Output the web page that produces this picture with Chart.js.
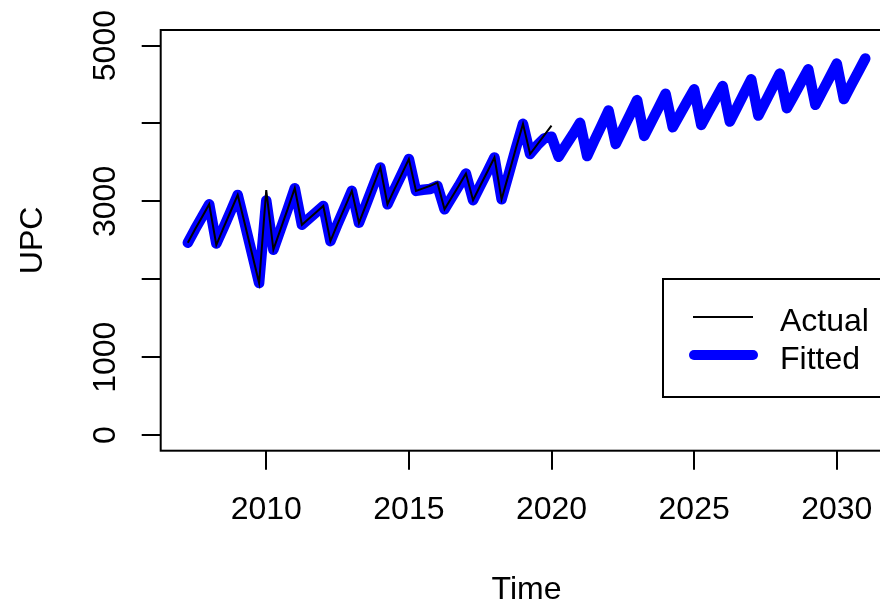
<!DOCTYPE html>
<html lang="en">
<head>
  <meta charset="UTF-8">
  <title>UPC</title>
  <script src="https://cdn.jsdelivr.net/npm/chart.js"></script>
  <style>
    html, body { margin: 0; padding: 0; background: #fff; overflow: hidden; }
    #wrap { width: 880px; height: 603px; overflow: hidden; }
    canvas { display: block; }
  </style>
</head>
<body>
<div id="wrap"><canvas id="upcChart" width="920" height="603"></canvas></div>
<script>
  // quarterly series, first point 2007 Q2
  const startYear = 2007.25;
  const actualValues = [
    2470, 2640, 2800,
    2963, 2440, 2660, 2870,
    3083, 2710, 2330, 1952,
    3144, 2380, 2640, 2900,
    3170, 2700, 2780, 2860,
    2941, 2490, 2710, 2920,
    3135, 2726, 2960, 3200,
    3435, 2963, 3160, 3350,
    3544, 3135, 3167, 3200,
    3240, 2899, 3050, 3200,
    3358, 3015, 3200, 3380,
    3564, 3028, 3350, 3680,
    3995, 3608, 3730, 3850,
    3973
  ];
  const fittedValues = [
    2470, 2640, 2800,
    2963, 2460, 2660, 2870,
    3083, 2710, 2330, 1952,
    3010, 2380, 2640, 2900,
    3170, 2700, 2780, 2860,
    2941, 2490, 2710, 2920,
    3135, 2726, 2960, 3200,
    3435, 2963, 3160, 3350,
    3544, 3135, 3150, 3160,
    3200, 2899, 3050, 3200,
    3358, 3015, 3200, 3380,
    3564, 3028, 3350, 3680,
    3995, 3608, 3720, 3810,
    3830
  ];
  const forecastValues = [
    3573, 3720, 3860, 4008,
    3582, 3780, 3970, 4167,
    3737, 3925, 4110, 4300,
    3840, 4020, 4200, 4382,
    3952, 4115, 4280, 4438,
    3982, 4150, 4315, 4480,
    4025, 4205, 4385, 4567,
    4102, 4280, 4460, 4640,
    4197, 4360, 4530, 4696,
    4240, 4415, 4590, 4769,
    4313, 4490, 4660, 4834
  ];
  const xTicks = [2010, 2015, 2020, 2025, 2030];
  const yTicks = [0, 1000, 2000, 3000, 4000, 5000];
  const yTickLabels = ['0', '1000', '', '3000', '', '5000'];
  const legendLabels = ['Actual', 'Fitted'];

  const toPoints = vals => vals.map((v, i) => ({ x: startYear + i * 0.25, y: v }));
  const actualPts = toPoints(actualValues);
  const fittedPts = toPoints(fittedValues.concat(forecastValues));

  const FONT = '32px "Liberation Sans", Arial, sans-serif';

  // R style decorations: box, axis labels, titles, legend
  const rDecor = {
    id: 'rDecor',
    afterDraw(chart) {
      const ctx = chart.ctx;
      const a = chart.chartArea;
      const xs = chart.scales.x, ys = chart.scales.y;
      ctx.save();
      ctx.strokeStyle = '#000';
      ctx.lineWidth = 2;
      ctx.strokeRect(a.left, a.top, a.right - a.left, a.bottom - a.top);

      ctx.fillStyle = '#000';
      ctx.font = FONT;
      ctx.textAlign = 'center';
      ctx.textBaseline = 'alphabetic';
      xTicks.forEach(t => ctx.fillText(String(t), xs.getPixelForValue(t), 519));
      ctx.fillText('Time', (a.left + a.right) / 2, 599);

      yTicks.forEach((t, i) => {
        if (!yTickLabels[i]) return;
        ctx.save();
        ctx.translate(115, ys.getPixelForValue(t));
        ctx.rotate(-Math.PI / 2);
        ctx.fillText(yTickLabels[i], 0, 0);
        ctx.restore();
      });
      ctx.save();
      ctx.translate(42, (a.top + a.bottom) / 2);
      ctx.rotate(-Math.PI / 2);
      ctx.fillText('UPC', 0, 0);
      ctx.restore();

      // legend
      ctx.lineWidth = 2;
      ctx.strokeRect(663, 279, 225, 118);
      ctx.beginPath();
      ctx.moveTo(693, 317);
      ctx.lineTo(753, 317);
      ctx.stroke();
      ctx.strokeStyle = '#0000ff';
      ctx.lineWidth = 10;
      ctx.lineCap = 'round';
      ctx.beginPath();
      ctx.moveTo(694, 355);
      ctx.lineTo(753, 355);
      ctx.stroke();
      ctx.textAlign = 'left';
      ctx.fillText(legendLabels[0], 780, 331);
      ctx.fillText(legendLabels[1], 780, 369);
      ctx.restore();
    }
  };

  new Chart(document.getElementById('upcChart'), {
    type: 'line',
    data: {
      datasets: [{
        label: 'Actual',
        data: actualPts,
        borderColor: '#000',
        borderWidth: 2,
        pointRadius: 0,
        tension: 0,
        fill: false,
        order: 0
      }, {
        label: 'Fitted',
        data: fittedPts,
        borderColor: '#0000ff',
        borderWidth: 10.5,
        borderCapStyle: 'round',
        borderJoinStyle: 'round',
        pointRadius: 0,
        tension: 0,
        fill: false,
        order: 1
      }]
    },
    options: {
      responsive: false,
      animation: false,
      layout: { padding: { top: 30, right: 27.6, bottom: 0, left: 0 } },
      plugins: {
        legend: { display: false },
        tooltip: { enabled: false }
      },
      scales: {
        x: {
          type: 'linear',
          min: 2006.3,
          max: 2031.95,
          afterBuildTicks: s => { s.ticks = xTicks.map(v => ({ value: v })); },
          afterFit: s => { s.height = 152.3; },
          ticks: { display: false },
          grid: { drawOnChartArea: false, drawTicks: true, tickLength: 19, color: '#000', lineWidth: 2 },
          border: { display: false }
        },
        y: {
          min: -200,
          max: 5200,
          afterBuildTicks: s => { s.ticks = yTicks.map(v => ({ value: v })); },
          afterFit: s => { s.width = 160.7; },
          ticks: { display: false },
          grid: { drawOnChartArea: false, drawTicks: true, tickLength: 19, color: '#000', lineWidth: 2 },
          border: { display: false }
        }
      }
    },
    plugins: [rDecor]
  });
</script>
</body>
</html>
